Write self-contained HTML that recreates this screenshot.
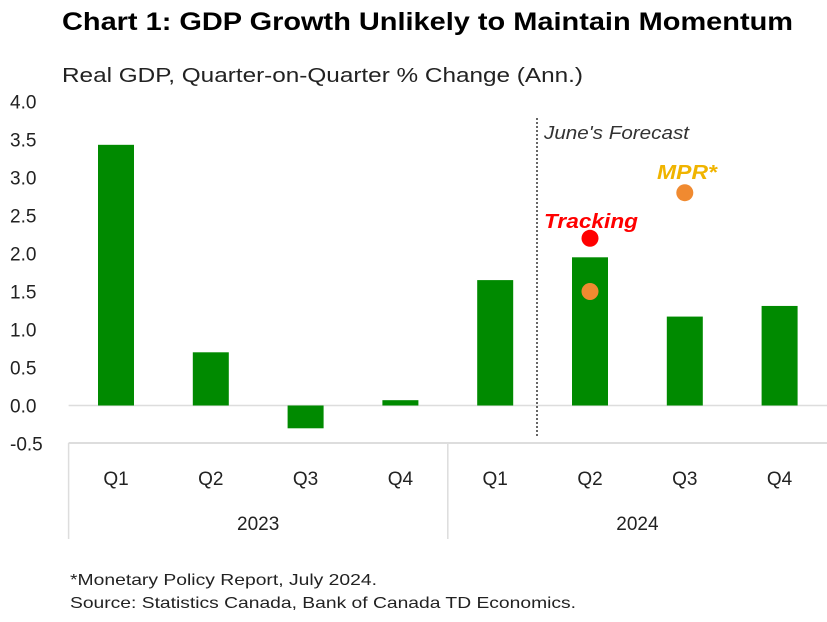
<!DOCTYPE html>
<html><head><meta charset="utf-8"><style>
body{margin:0;background:#fff;}
svg text{font-family:"Liberation Sans",sans-serif;}
</style></head><body>
<svg id="chart" width="827" height="617" viewBox="0 0 827 617">
<text x="62" y="30" font-size="25" font-weight="bold" fill="#000" textLength="731" lengthAdjust="spacingAndGlyphs">Chart 1: GDP Growth Unlikely to Maintain Momentum</text>
<text x="62" y="82" font-size="20" fill="#222" textLength="521" lengthAdjust="spacingAndGlyphs">Real GDP, Quarter-on-Quarter % Change (Ann.)</text>
<g id="yticks"></g>
<g id="plot"></g>
<g id="xaxis"></g>
<text x="70" y="585" font-size="16" fill="#222" textLength="307" lengthAdjust="spacingAndGlyphs">*Monetary Policy Report, July 2024.</text>
<text x="70" y="608" font-size="16" fill="#222" textLength="506" lengthAdjust="spacingAndGlyphs">Source: Statistics Canada, Bank of Canada TD Economics.</text>
</svg>
<script>
const quarters=["Q1","Q2","Q3","Q4","Q1","Q2","Q3","Q4"];
const years=["2023","2024"];
const gdp=[3.43,0.70,-0.30,0.07,1.65,1.95,1.17,1.31];
const tracking=[{i:5,v:2.2}];
const mpr=[{i:5,v:1.5},{i:6,v:2.8}];
const yTicks=[4.0,3.5,3.0,2.5,2.0,1.5,1.0,0.5,0.0,-0.5];
const NS="http://www.w3.org/2000/svg";
const x0=68.6,x1=827,catW=(x1-x0)/8;
const y=v=>405.5-(v*76);
const xc=i=>x0+catW*(i+0.5);
function mk(tag,attrs,parent,txt){const e=document.createElementNS(NS,tag);for(const k in attrs)e.setAttribute(k,attrs[k]);if(txt!==undefined)e.textContent=txt;parent.appendChild(e);return e;}
const yg=document.getElementById('yticks'),pg=document.getElementById('plot'),xg=document.getElementById('xaxis');
yTicks.forEach(t=>{const e=mk('text',{x:10,y:y(t)+7,'font-size':19,fill:'#222'},yg,t.toFixed(1));

});
const zl=mk('line',{x1:x0,x2:x1,y1:y(0),y2:y(0),stroke:'#ddd','stroke-width':1.5},pg);


gdp.forEach((v,i)=>{const r=mk('rect',{x:xc(i)-18,y:Math.min(y(v),y(0)),width:36,height:Math.abs(y(v)-y(0)),fill:'#008a00'},pg);

});
const dl=mk('line',{x1:537,x2:537,y1:118,y2:438,stroke:'#333','stroke-width':1.5,'stroke-dasharray':'2,2'},pg);


const ft=mk('text',{x:544,y:139,'font-size':18,'font-style':'italic',fill:'#333',textLength:145,lengthAdjust:'spacingAndGlyphs'},pg,"June's Forecast");


mpr.forEach(d=>{const c=mk('circle',{cx:xc(d.i),cy:y(d.v),r:8.5,fill:'#f08a30'},pg);

});
tracking.forEach(d=>{const c=mk('circle',{cx:xc(d.i),cy:y(d.v),r:8.5,fill:'#ff0000'},pg);

});
const tl=mk('text',{x:544,y:228,'font-size':20,'font-weight':'bold','font-style':'italic',fill:'#ff0000',textLength:94,lengthAdjust:'spacingAndGlyphs'},pg,'Tracking');


const ml=mk('text',{x:657,y:179,'font-size':20,'font-weight':'bold','font-style':'italic',fill:'#f0b400',textLength:60,lengthAdjust:'spacingAndGlyphs'},pg,'MPR*');


const al=mk('line',{x1:x0,x2:x1,y1:443,y2:443,stroke:'#ddd','stroke-width':2},xg);


[x0,x0+catW*4].forEach(xx=>{const s=mk('line',{x1:xx,x2:xx,y1:443,y2:539,stroke:'#ddd','stroke-width':1.5},xg);

});
quarters.forEach((q,i)=>{const t=mk('text',{x:xc(i),y:485,'font-size':19,fill:'#222','text-anchor':'middle'},xg,q);

});
years.forEach((yr,j)=>{const t=mk('text',{x:x0+catW*(j*4+2),y:530,'font-size':19,fill:'#222','text-anchor':'middle'},xg,yr);

});
</script>
</body></html>
